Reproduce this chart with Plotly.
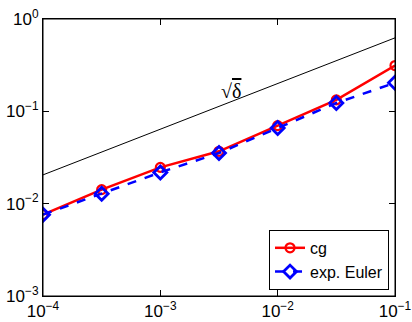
import plotly.graph_objects as go

delta = [1e-4, 10**-3.5, 1e-3, 10**-2.5, 1e-2, 10**-1.5, 1e-1]
cg = [0.0076, 0.0142, 0.0247, 0.0369, 0.070, 0.133, 0.313]
exp_euler = [0.0076, 0.0128, 0.0218, 0.0354, 0.066, 0.123, 0.204]
ref_x = [1e-4, 1e-1]
ref_y = [0.0205, 0.625]

x_ticks = [1e-4, 1e-3, 1e-2, 1e-1]
x_labels = ["10<sup>−4</sup>", "10<sup>−3</sup>", "10<sup>−2</sup>", "10<sup>−1</sup>"]
y_ticks = [1e-3, 1e-2, 1e-1, 1e0]
y_labels = ["10<sup>−3</sup>", "10<sup>−2</sup>", "10<sup>−1</sup>", "10<sup>0</sup>"]

x_minor = [m * 10.0**e for e in range(-4, -1) for m in range(2, 10)]
y_minor = [m * 10.0**e for e in range(-3, 0) for m in range(2, 10)]

fig = go.Figure()
fig.add_trace(go.Scatter(x=ref_x, y=ref_y, mode="lines",
                         line=dict(color="black", width=1), showlegend=False))
fig.add_trace(go.Scatter(x=delta, y=cg, mode="lines+markers", name="cg",
                         line=dict(color="#ff0000", width=2.5),
                         marker=dict(symbol="circle-open", size=9, color="#ff0000",
                                     line=dict(width=2.2, color="#ff0000"))))
fig.add_trace(go.Scatter(x=delta, y=exp_euler, mode="lines+markers", name="exp. Euler",
                         line=dict(color="#0000ff", width=2.5, dash="dash"),
                         marker=dict(symbol="diamond-open", size=10, color="#0000ff",
                                     line=dict(width=2.8, color="#0000ff"))))

fig.add_annotation(x=-2.40, y=-0.78, xref="x", yref="y",
                   text="√<span style='text-decoration:overline'>δ</span>",
                   showarrow=False, font=dict(family="Times New Roman, Liberation Serif, serif",
                                              size=20, color="black"))

# plot frame
fig.add_shape(type="rect", xref="paper", yref="paper", x0=0, y0=0, x1=1, y1=1,
              fillcolor="rgba(0,0,0,0)", opacity=1,
              line=dict(color="black", width=1), layer="above")

font_ticks = dict(family="Arial, Liberation Sans, sans-serif", size=17, color="black")

main_axis = dict(type="log", showgrid=False, zeroline=False, showline=True,
                 linecolor="black", linewidth=1, mirror="allticks",
                 ticks="inside", ticklen=6, tickcolor="black", tickwidth=1,
                 tickfont=font_ticks, automargin=False, ticklabeloverflow="allow")
minor_axis = dict(type="log", showgrid=False, zeroline=False, showline=False,
                  mirror="ticks", ticks="inside", ticklen=3, tickcolor="black",
                  tickwidth=1, showticklabels=False, automargin=False)

fig.update_layout(
    template="simple_white",
    width=412, height=322,
    margin=dict(l=43, r=17, t=19, b=26),
    paper_bgcolor="white", plot_bgcolor="white",
    xaxis=dict(range=[-4, -1], tickmode="array", tickvals=x_ticks, ticktext=x_labels, **main_axis),
    yaxis=dict(range=[-3, 0], tickmode="array", tickvals=y_ticks, ticktext=y_labels, **main_axis),
    xaxis2=dict(range=[-4, -1], overlaying="x", side="bottom", anchor="y",
                tickmode="array", tickvals=x_minor, **minor_axis),
    yaxis2=dict(range=[-3, 0], overlaying="y", side="left", anchor="x",
                tickmode="array", tickvals=y_minor, **minor_axis),
    legend=dict(x=0.983, y=0.022, xanchor="right", yanchor="bottom",
                bordercolor="black", borderwidth=1, bgcolor="white",
                font=dict(family="Arial, Liberation Sans, sans-serif", size=16, color="black"),
                tracegroupgap=0, itemwidth=30),
)

fig.write_html("out.html", config={"displayModeBar": False},
               post_script="document.body.style.margin='0';")
